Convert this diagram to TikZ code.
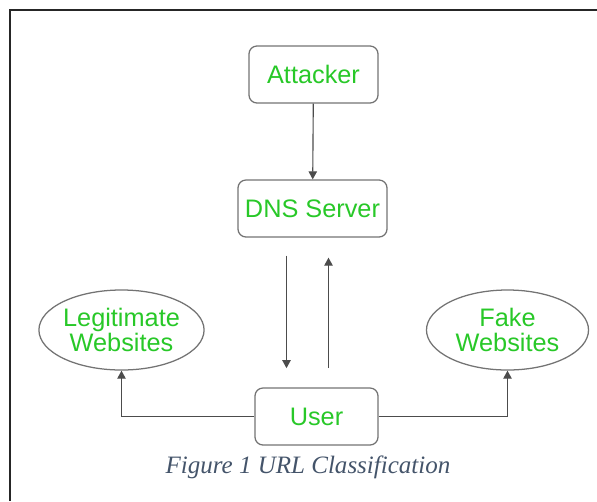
\documentclass[tikz,border=0pt]{standalone}
\usepackage{fontspec}
\setmainfont{Liberation Sans}
\newfontfamily\capfont{Liberation Serif}
\usepackage{xcolor}
\usetikzlibrary{arrows.meta,positioning,shapes.geometric}
\definecolor{nodegreen}{RGB}{40,200,40}
\definecolor{capblue}{RGB}{68,84,106}

\begin{document}
\begin{tikzpicture}[x=0.025cm, y=-0.025cm,
  font=\fontsize{18}{21}\selectfont,
  box/.style={draw=black!55, line width=0.9pt, rounded corners=0.2cm,
    minimum height=1.425cm, text=nodegreen, align=center},
  oval/.style={ellipse, draw=black!55, line width=0.9pt, minimum width=4.05cm,
    minimum height=2cm, inner sep=0pt, text=nodegreen, align=center},
  arr/.style={-{Triangle[length=2mm, width=2.1mm]}, black!70, line width=0.8pt}]
\useasboundingbox (0,0) rectangle (597,501);
% ---- frame ----
\draw[line width=1.3pt, black!85] (10,501) -- (10,10) -- (597,10);
% ---- nodes ----
\node[box, minimum width=3.225cm] (attacker) at (313.5,74.5) {Attacker};
\node[box, minimum width=3.725cm] (dns) at (312.5,208.5) {DNS Server};
\node[box, minimum width=3.075cm] (user) at (316.5,416.5) {User};
\node[oval] (legit) at (121.5,330) {Legitimate\\[-3pt]Websites};
\node[oval] (fake) at (507.5,330) {Fake\\[-3pt]Websites};
% ---- connectors ----
\draw[arr] (attacker) -- (dns);
\draw[arr, shorten <=0.45cm, shorten >=0.48cm]
  ([xshift=-0.65cm]dns.south) -- ([xshift=-0.65cm]dns.south |- user.north);
\draw[arr, shorten <=0.48cm, shorten >=0.5cm]
  ([xshift=0.4cm]dns.south |- user.north) -- ([xshift=0.4cm]dns.south);
\draw[arr] (user.west) -| (legit.south);
\draw[arr] (user.east) -| (fake.south);
% ---- caption ----
\node[font=\capfont\itshape\fontsize{17.8}{20}\selectfont, text=capblue] (caption)
  at (308,467) {Figure 1 URL Classification};
\end{tikzpicture}
\end{document}
